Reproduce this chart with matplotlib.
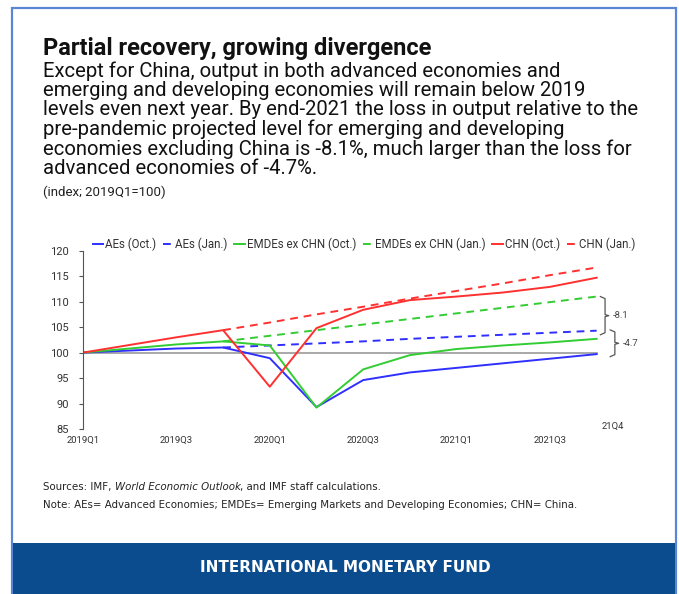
import matplotlib
matplotlib.use("Agg")
import matplotlib.pyplot as plt
from matplotlib.patches import Rectangle
from matplotlib.text import Annotation

plt.rcParams["font.family"] = ["Roboto", "DejaVu Sans"]

# Quarterly index, 2019Q1=100
quarters = ["2019Q1", "2019Q2", "2019Q3", "2019Q4", "2020Q1", "2020Q2",
            "2020Q3", "2020Q4", "2021Q1", "2021Q2", "2021Q3", "2021Q4"]
tick_labels = ["2019Q1", "2019Q3", "2020Q1", "2020Q3", "2021Q1", "2021Q3"]

aes_oct = [100, 100.4, 100.8, 101.0, 98.9, 89.3, 94.6, 96.1, 97.0, 97.9, 98.8, 99.7]
aes_jan = [100, 100.4, 100.8, 101.0, 101.4, 101.8, 102.2, 102.7, 103.1, 103.5, 103.9, 104.3]
emde_oct = [100, 100.8, 101.6, 102.2, 101.4, 89.2, 96.7, 99.5, 100.7, 101.4, 102.0, 102.7]
emde_jan = [100, 100.8, 101.6, 102.2, 103.3, 104.4, 105.5, 106.6, 107.7, 108.8, 109.9, 111.0]
chn_oct = [100, 101.5, 103.0, 104.4, 93.3, 104.8, 108.4, 110.3, 111.0, 111.8, 112.9, 114.7]
chn_jan = [100, 101.5, 103.0, 104.4, 105.9, 107.5, 109.0, 110.6, 112.1, 113.6, 115.2, 116.7]

gap_labels = ["-8.1", "-4.7"]

BLUE = "#2f2fff"
GREEN = "#33cc33"
RED = "#ff3030"
DASH = (0, (4, 3))

fig = plt.figure(figsize=(6.79, 5.94), dpi=100)
fig.patch.set_facecolor("white")

# card border and footer band
fig.add_artist(Rectangle((12 / 679, 0), 664 / 679, 1 - 8 / 594, transform=fig.transFigure,
                         fill=False, edgecolor="#5b86d6", linewidth=1.6))
fig.add_artist(Rectangle((13 / 679, 0), 662 / 679, 51 / 594, transform=fig.transFigure,
                         facecolor="#0b4c8f", edgecolor="none"))
fig.text(345 / 679, 26 / 594, "INTERNATIONAL MONETARY FUND", color="white", fontsize=11,
         family="DejaVu Sans", fontweight="bold", ha="center", va="center")

# header text
fig.text(43 / 679, 1 - 48 / 594, "Partial recovery, growing divergence", fontsize=17,
         fontweight="bold", va="center", color="#111111")
body = ("Except for China, output in both advanced economies and\n"
        "emerging and developing economies will remain below 2019\n"
        "levels even next year. By end-2021 the loss in output relative to the\n"
        "pre-pandemic projected level for emerging and developing\n"
        "economies excluding China is -8.1%, much larger than the loss for\n"
        "advanced economies of -4.7%.")
fig.text(43 / 679, 1 - 61 / 594, body, fontsize=14.6, va="top", linespacing=1.02, color="#111111")
fig.text(43 / 679, 1 - 192 / 594, "(index; 2019Q1=100)", fontsize=9.5, va="center", color="#222222")

# chart
ax = fig.add_axes([83 / 679, 1 - 429 / 594, 537 / 679, 178.3 / 594])
x = list(range(len(quarters)))
ax.axhline(100, xmin=0, xmax=11 / 11.5, color="#9a9a9a", linewidth=1.2, zorder=1)

ax.plot(x, aes_oct, color=BLUE, linewidth=1.4, label="AEs (Oct.)")
ax.plot(x[3:], aes_jan[3:], color=BLUE, linewidth=1.4, linestyle=DASH, label="AEs (Jan.)")
ax.plot(x, emde_oct, color=GREEN, linewidth=1.4, label="EMDEs ex CHN (Oct.)")
ax.plot(x[3:], emde_jan[3:], color=GREEN, linewidth=1.4, linestyle=DASH, label="EMDEs ex CHN (Jan.)")
ax.plot(x, chn_oct, color=RED, linewidth=1.4, label="CHN (Oct.)")
ax.plot(x[3:], chn_jan[3:], color=RED, linewidth=1.4, linestyle=DASH, label="CHN (Jan.)")

ax.set_xlim(0, 11.5)
ax.set_ylim(85, 120)
ax.set_yticks(range(85, 121, 5))
ax.set_xticks([quarters.index(t) for t in tick_labels])
ax.set_xticklabels(tick_labels)
ax.tick_params(axis="y", labelsize=8, colors="#555555", labelcolor="#333333", length=3, width=0.8, pad=7)
ax.tick_params(axis="x", labelsize=6.8, labelcolor="#333333", length=0, pad=5)
for side in ["top", "right", "bottom"]:
    ax.spines[side].set_visible(False)
ax.spines["left"].set_color("#555555")
ax.spines["left"].set_linewidth(0.8)

ax.text(11.35, 85.4, "21Q4", fontsize=6.8, color="#333333", ha="center", va="center")


def bracket(ax, xv, top, bottom, label):
    """Curly-ish bracket marking the gap between Jan. and Oct. end points."""
    mid = (top + bottom) / 2
    xs = [xv - 0.1, xv, xv, xv + 0.08, xv, xv, xv - 0.1]
    ys = [top, top - 0.4, mid + 0.2, mid, mid - 0.2, bottom + 0.4, bottom]
    ax.plot(xs, ys, color="#555555", linewidth=0.9, clip_on=False)
    ax.text(xv + 0.17, mid, label, fontsize=6.8, color="#444444", va="center", ha="left")


bracket(ax, 11.18, emde_jan[-1], emde_oct[-1] + 0.8, gap_labels[0])
bracket(ax, 11.39, aes_jan[-1] + 0.15, aes_oct[-1] - 0.5, gap_labels[1])

fig.legend(loc="center", bbox_to_anchor=(364 / 679, 1 - 244 / 594), ncol=6, frameon=False,
           fontsize=8.3, handlelength=0.9, handletextpad=0.15, columnspacing=0.6,
           labelcolor="#333333")

# sources and note
narrow = dict(family="DejaVu Sans", fontstretch="condensed", fontsize=8.2, color="#222222")
t1 = fig.text(43 / 679, 1 - 487 / 594, "Sources: IMF, ", va="center", **narrow)
a2 = fig.add_artist(Annotation("World Economic Outlook", xy=(1, 0.5), xycoords=t1,
                               va="center", style="italic", **narrow))
fig.add_artist(Annotation(", and IMF staff calculations.", xy=(1, 0.5), xycoords=a2,
                          va="center", **narrow))
fig.text(43 / 679, 1 - 505 / 594,
         "Note: AEs= Advanced Economies; EMDEs= Emerging Markets and Developing Economies; CHN= China.",
         va="center", **narrow)

fig.savefig("out.png", dpi=100, facecolor="white")
